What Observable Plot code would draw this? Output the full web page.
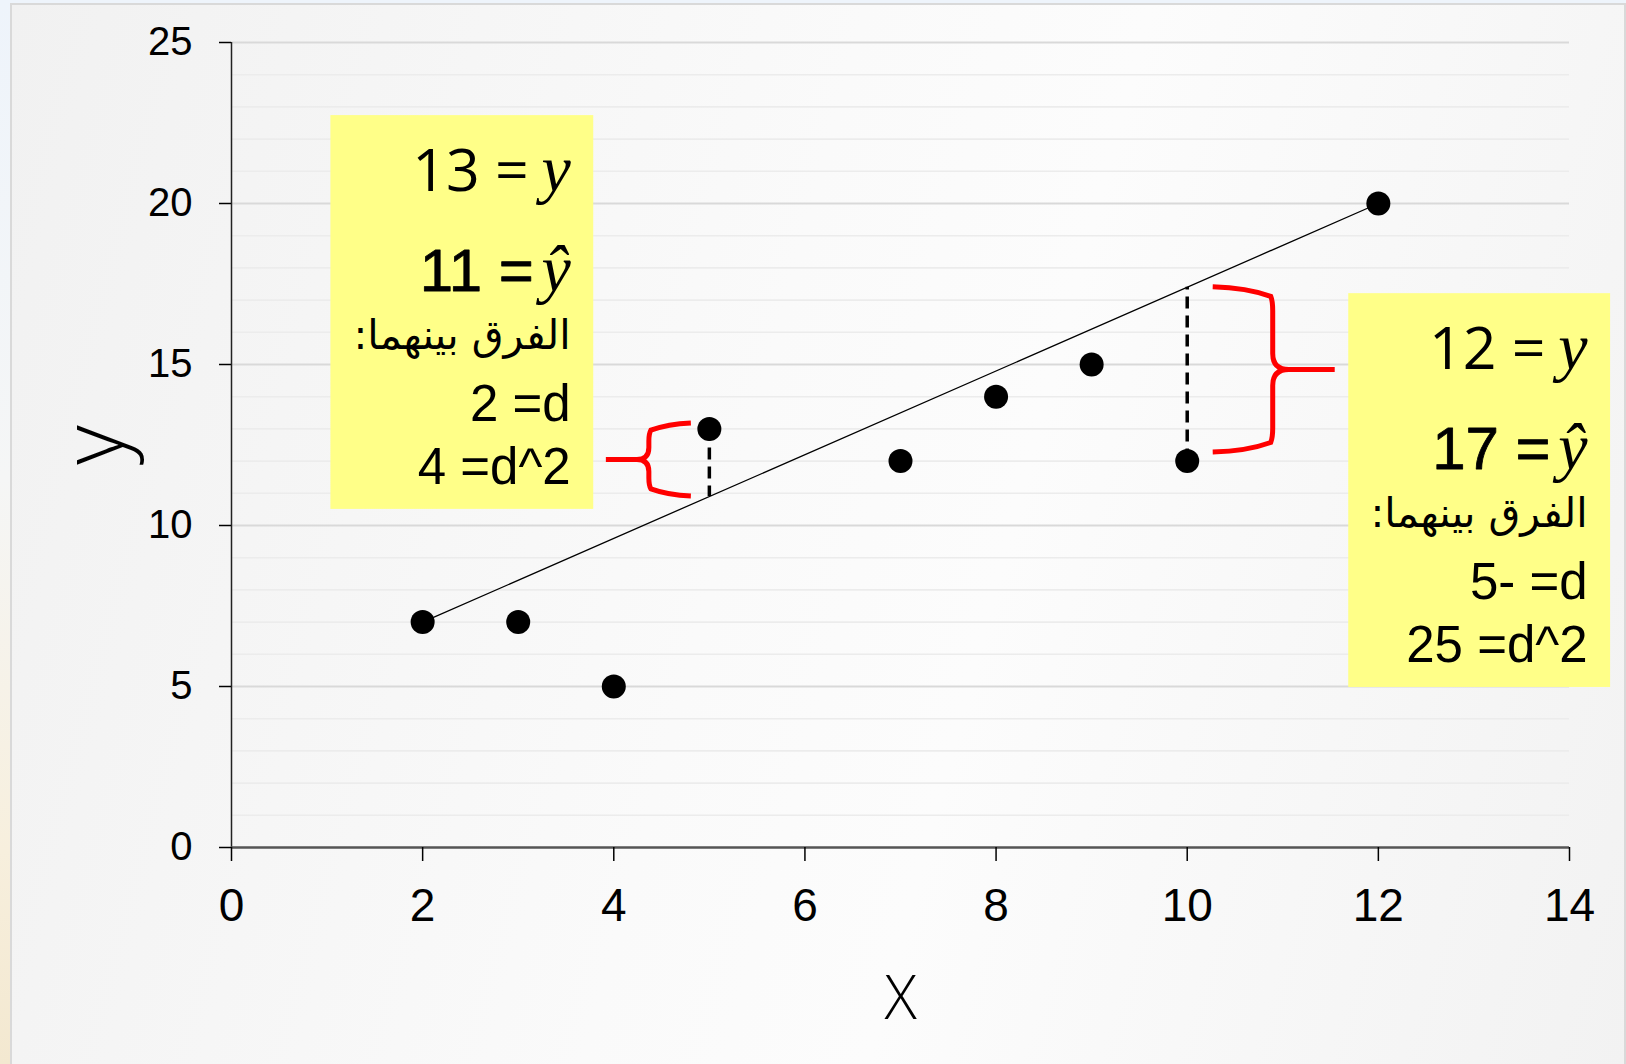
<!DOCTYPE html>
<html>
<head>
<meta charset="utf-8">
<script src="https://cdn.jsdelivr.net/npm/d3@7"></script>
<script src="https://cdn.jsdelivr.net/npm/@observablehq/plot@0.6"></script>
<style>
  html, body { margin: 0; padding: 0; width: 1626px; height: 1064px; overflow: hidden; }
  body { background: linear-gradient(180deg, #eef4fb 0%, #f5f6f6 45%, #f7efdd 80%, #f3e8d0 100%); position: relative; }
  #slide {
    position: absolute; left: 10px; top: 3px; width: 1612px; height: 1070px;
    border: 2px solid #d9d9d9; border-bottom: none;
    background: linear-gradient(105deg, #f1f1f1 0%, #fafafa 45%, #fcfcfc 60%, #f2f2f2 100%);
  }
  #chart { position: absolute; left: 0; top: 0; }
</style>
</head>
<body>
<div id="slide"></div>
<div id="chart"></div>
<script>
// Observations
const xs = [2, 3, 4, 5, 7, 8, 9, 10, 12];
const ys = [7, 7, 5, 13, 12, 14, 15, 12, 20];

// Fitted line endpoints
const fitX = [2, 12];
const fitY = [7, 20];

// Two highlighted observations and their residuals
const noteX = [5, 10];
const noteY = [13, 12];
const noteYhat = [11, 17];
const noteD = [2, -5];
const noteD2 = [4, 25];

// Axis ticks and labels
const xTicks = [0, 2, 4, 6, 8, 10, 12, 14];
const yTicks = [0, 5, 10, 15, 20, 25];
const yMinor = [1, 2, 3, 4, 6, 7, 8, 9, 11, 12, 13, 14, 16, 17, 18, 19, 21, 22, 23, 24];
const xLabel = "X";
const yLabel = "y";
const diffLabel = "الفرق بينهما:";

// ---- layout / styling (not data) ----
const boxLayout = [
  {x1: 1.04, x2: 3.79, y1: 10.5, y2: 22.73},
  {x1: 11.69, x2: 14.43, y1: 4.97, y2: 17.2}
];
const braceStyle = [
  {side: -1, gap: 18, depth: 42, reach: 43, r: 12, padHi: -5.5, padLo: 0},
  {side: 1, gap: 26, depth: 60, reach: 62, r: 16, padHi: 0, padLo: -8.5}
];

const slope = (fitY[1] - fitY[0]) / (fitX[1] - fitX[0]);
const lineAt = x => fitY[0] + (x - fitX[0]) * slope;

const points = xs.map((x, i) => ({x, y: ys[i]}));
const fit = fitX.map((x, i) => ({x, y: fitY[i]}));
const notes = noteX.map((x, i) => ({
  x, y: noteY[i], yhat: noteYhat[i], d: noteD[i], d2: noteD2[i],
  fit: lineAt(x), box: boxLayout[i], brace: braceStyle[i]
}));

// Numbers are shown in right-to-left reading order
const fmtD = d => d < 0 ? `${-d}- =d` : `${d} =d`;

// Curly brace spanning each residual
function braces(index, scales) {
  const g = d3.create("svg:g")
    .attr("fill", "none")
    .attr("stroke", "#ff0000")
    .attr("stroke-width", 5);
  for (const n of notes) {
    const s = n.brace, k = s.side, r = s.r;
    const yA = scales.y(Math.max(n.y, n.fit)) + s.padHi;
    const yB = scales.y(Math.min(n.y, n.fit)) + s.padLo;
    const mid = (yA + yB) / 2;
    const arm = scales.x(n.x) + k * s.gap;
    const stem = arm + k * s.depth;
    const tip = stem + k * s.reach;
    const p = d3.path();
    p.moveTo(arm, yA);
    p.quadraticCurveTo(stem - k * r * 1.6, yA + 1, stem - k * 2, yA + r * 0.6);
    p.quadraticCurveTo(stem, yA + r * 0.9, stem, yA + r * 1.5);
    p.lineTo(stem, mid - r);
    p.quadraticCurveTo(stem, mid, stem + k * r, mid);
    p.lineTo(tip, mid);
    p.moveTo(stem + k * r, mid);
    p.quadraticCurveTo(stem, mid, stem, mid + r);
    p.lineTo(stem, yB - r * 1.5);
    p.quadraticCurveTo(stem, yB - r * 0.9, stem - k * 2, yB - r * 0.6);
    p.quadraticCurveTo(stem - k * r * 1.6, yB - 1, arm, yB);
    g.append("path").attr("d", p.toString());
  }
  return g.node();
}

const textRight = -23;
function boxLine(text, dy, opts = {}) {
  const {dx = 0, ...rest} = opts;
  return Plot.text(notes, {
    x: n => n.box.x2, y: n => n.box.y2, text,
    dx: textRight + dx, dy, lineAnchor: "bottom", textAnchor: "end",
    fill: "black", fontFamily: "Liberation Sans, Arial, sans-serif", fontSize: 51,
    ...rest
  });
}

const chart = Plot.plot({
  width: 1626,
  height: 1064,
  marginLeft: 231,
  marginRight: 57,
  marginTop: 42,
  marginBottom: 217,
  x: {domain: [0, 14]},
  y: {domain: [0, 25]},
  style: {fontFamily: "Liberation Sans, Arial, sans-serif", background: "transparent", overflow: "visible", color: "black"},
  marks: [
    Plot.ruleY(yMinor, {stroke: "#ececec", strokeWidth: 1.6}),
    Plot.ruleY(yTicks.filter(v => v > 0), {stroke: "#d9d9d9", strokeWidth: 2}),
    Plot.ruleX([0], {stroke: "#222", strokeWidth: 1.5}),
    Plot.ruleY([0], {stroke: "#555", strokeWidth: 2.5}),
    Plot.axisY({ticks: yTicks, tickSize: 12, tickPadding: 27, fontSize: 40, label: null, strokeWidth: 1.5}),
    Plot.axisX({ticks: xTicks, tickSize: 14, tickPadding: 27, fontSize: 46, label: null, strokeWidth: 1.5}),
    Plot.text([yLabel], {frameAnchor: "left", dx: -108, rotate: -90, lineAnchor: "bottom", textAnchor: "middle",
      fontSize: 86, fontWeight: 300, fontFamily: "Open Sans, Lato, sans-serif"}),
    Plot.text([xLabel], {frameAnchor: "bottom", dy: 171, lineAnchor: "bottom", textAnchor: "middle",
      fontSize: 60, fontWeight: 300, fontFamily: "Open Sans, Lato, sans-serif"}),
    Plot.line(fit, {x: "x", y: "y", stroke: "black", strokeWidth: 1.3}),
    Plot.ruleX(notes, {x: "x", y1: "y", y2: "fit", stroke: "black", strokeWidth: 3.5, strokeDasharray: "12,7"}),
    Plot.dot(points, {x: "x", y: "y", r: 12, fill: "black"}),
    braces,
    Plot.rect(notes, {x1: n => n.box.x1, x2: n => n.box.x2, y1: n => n.box.y1, y2: n => n.box.y2, fill: "#ffff88"}),
    boxLine(n => `${n.y} =`, 75, {dx: -42, fontSize: 59, fontWeight: 400, fontFamily: "Open Sans, Lato, sans-serif"}),
    boxLine(() => "y", 75, {fontSize: 66, fontStyle: "italic", fontFamily: "Liberation Serif, Times New Roman, serif"}),
    boxLine(n => `${n.yhat} =`, 175, {dx: -37, fontSize: 60, stroke: "black", strokeWidth: 0.8}),
    boxLine(() => "\u0177", 175, {fontSize: 66, fontStyle: "italic", fontFamily: "Liberation Serif, Times New Roman, serif"}),
    boxLine(() => diffLabel + "\u200F", 233, {fontSize: 41, fontFamily: "DejaVu Sans, sans-serif"}),
    boxLine(n => fmtD(n.d), 305),
    boxLine(n => `${n.d2} =d^2`, 368)
  ]
});

document.getElementById("chart").appendChild(chart);
</script>
</body>
</html>
